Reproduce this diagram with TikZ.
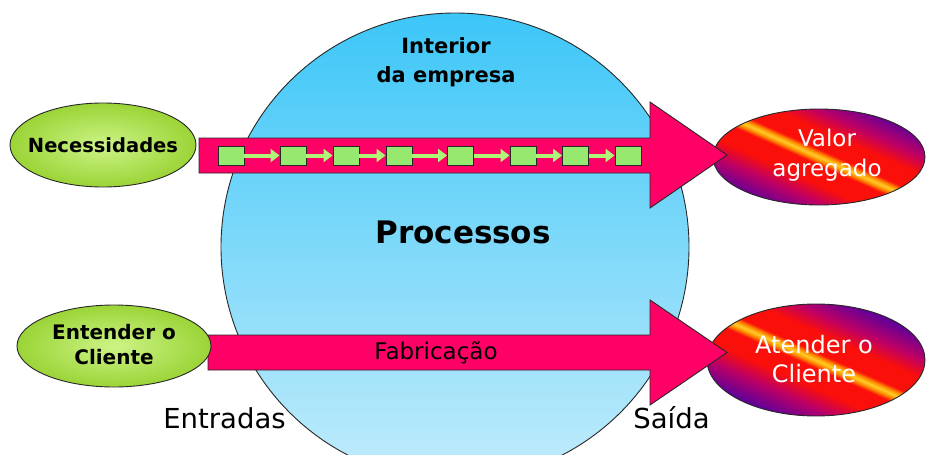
\documentclass[tikz,border=0pt]{standalone}
\usepackage{fontspec}
\setmainfont{DejaVu Sans}
\usetikzlibrary{shapes.geometric,arrows.meta,shadings}

\definecolor{cyanTop}{RGB}{60,198,248}
\definecolor{cyanBot}{RGB}{194,236,251}
\definecolor{pinkA}{RGB}{255,0,102}
\definecolor{greenIn}{RGB}{205,244,135}
\definecolor{greenOut}{RGB}{155,212,55}
\definecolor{sqGreen}{RGB}{150,232,110}
\definecolor{arrGreen}{RGB}{175,245,120}
\definecolor{purp}{RGB}{100,0,150}
\definecolor{magA}{RGB}{190,0,100}
\definecolor{redB}{RGB}{250,15,10}
\definecolor{orangeA}{RGB}{255,140,0}
\definecolor{yellowA}{RGB}{255,205,40}
\definecolor{lineC}{RGB}{40,40,40}

\pgfdeclarehorizontalshading{fire}{100bp}{color(0bp)=(purp); color(35bp)=(purp); color(40bp)=(magA); color(44bp)=(redB); color(48.3bp)=(redB); color(49.2bp)=(orangeA); color(50bp)=(yellowA); color(50.8bp)=(orangeA); color(51.7bp)=(redB); color(56bp)=(redB); color(60bp)=(magA); color(65bp)=(purp); color(100bp)=(purp)}

\begin{document}
\begin{tikzpicture}[x=1pt,y=-1pt,
  lbl/.style={inner sep=0pt, text=black},
  greenell/.style={ellipse, draw=lineC, line width=0.9pt, inner sep=0pt, inner color=greenIn, outer color=greenOut},
  outell/.style={ellipse, draw=lineC, line width=0.9pt, inner sep=0pt},
  fireshade/.style={shading=fire, shading angle=66},
  bigarrow/.style={fill=pinkA, draw=lineC, line width=0.9pt, line join=miter},
  sqbox/.style={rectangle, draw=lineC, line width=0.9pt, fill=sqGreen, minimum width=26pt, minimum height=19pt, inner sep=0pt},
  garrow/.style={draw=arrGreen, line width=4pt, -{Triangle[length=9pt,width=13pt]}}
]
\useasboundingbox (0,0) rectangle (927,455);
\fill[white] (0,0) rectangle (927,455);
\begin{scope}
\clip (0,0) rectangle (927,455);

% big circle
\node[circle, draw=lineC, line width=0.9pt, minimum size=468pt, inner sep=0pt,
      top color=cyanTop, bottom color=cyanBot] (interior) at (455,247) {};

% output ellipses (fire gradient clipped to ellipse)
\begin{scope}
\clip (819,157) ellipse [x radius=106, y radius=48];
\shade[fireshade] (713,51) rectangle (925,263);
\end{scope}
\node[outell, minimum width=212pt, minimum height=96pt] (valor) at (819,157) {};
\begin{scope}
\clip (816,360) ellipse [x radius=109, y radius=56];
\shade[fireshade] (707,251) rectangle (925,469);
\end{scope}
\node[outell, minimum width=218pt, minimum height=112pt] (atender) at (816,360) {};

% big arrows
\draw[bigarrow] (199,138) -- (650,138) -- (650,102) -- (727,155) -- (650,208) -- (650,173) -- (199,173) -- cycle;
\draw[bigarrow] (208,335) -- (650,335) -- (650,300) -- (727,352.5) -- (650,405) -- (650,370) -- (208,370) -- cycle;

% input ellipses
\node[greenell, minimum width=186pt, minimum height=84pt] (nec) at (103,145) {};
\node[greenell, minimum width=194pt, minimum height=82pt] (ent) at (114,346) {};

% process squares
\foreach \i/\x in {1/231,2/293,3/346,4/399,5/460.5,6/523,7/575.5,8/628}
  \node[sqbox] (sq\i) at (\x,155.5) {};
\foreach \i/\j in {1/2,2/3,3/4,4/5,5/6,6/7,7/8}
  \draw[garrow] (sq\i.east) -- (sq\j.west);

% texts
\node[lbl, font=\bfseries\fontsize{19.5pt}{25pt}\selectfont] at (nec.center) {Necessidades};
\node[lbl, font=\bfseries\fontsize{20pt}{25pt}\selectfont, align=center] at (114,345) {Entender o\\Cliente};
\node[lbl, text=white, font=\fontsize{23pt}{30pt}\selectfont, align=center] at (827,155) {Valor\\agregado};
\node[lbl, text=white, font=\fontsize{24pt}{29pt}\selectfont, align=center] at (814,359) {Atender o\\Cliente};
\node[lbl, font=\bfseries\fontsize{21pt}{29pt}\selectfont, align=center, anchor=base] at (446,82) {Interior\\da empresa};
\node[lbl, font=\bfseries\fontsize{31pt}{36pt}\selectfont, anchor=base] at (463,243) {Processos};
\node[lbl, font=\fontsize{23pt}{28pt}\selectfont, anchor=base] at (436,359) {Fabricação};
\node[lbl, font=\fontsize{27.5pt}{32pt}\selectfont, anchor=base] at (224.5,428) {Entradas};
\node[lbl, font=\fontsize{27.5pt}{32pt}\selectfont, anchor=base] at (671.5,428) {Saída};
\end{scope}
\end{tikzpicture}
\end{document}
